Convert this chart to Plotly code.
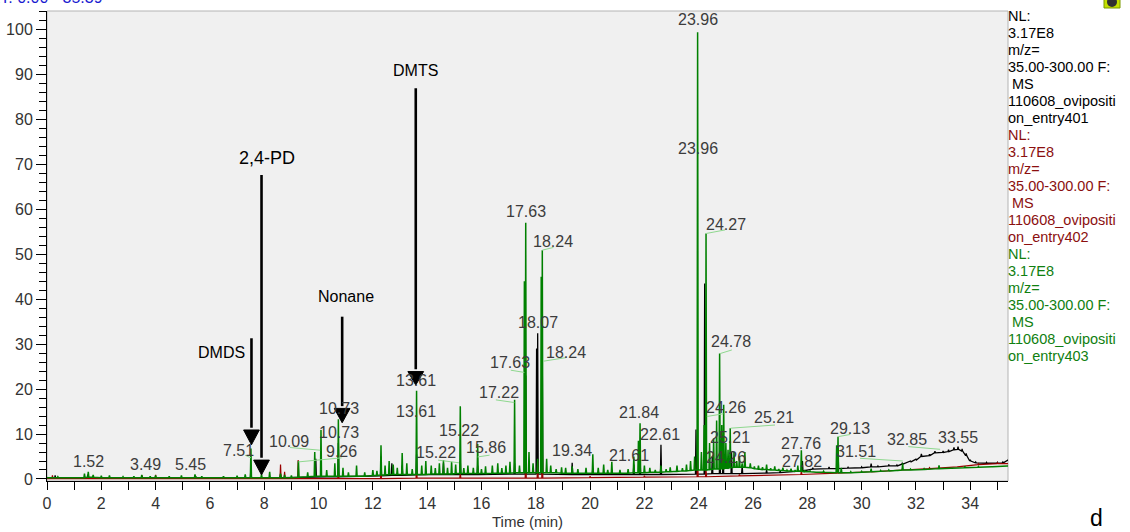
import plotly.graph_objects as go

# ---------------- data ----------------
# Green trace (entry403): retention time, apex intensity, foot (baseline) intensity
green_rt = [0.00, 0.40, 1.38, 1.52, 1.70, 2.00, 2.30, 2.80, 3.20, 3.49, 3.80, 4.00, 4.50, 4.95, 5.45, 5.70,
            6.50, 7.00, 7.30, 7.51, 7.90, 8.20, 8.60, 8.75, 9.00, 9.26, 9.60, 9.86, 10.09, 10.30, 10.60, 10.73,
            10.90, 11.10, 11.40, 11.70, 12.00, 12.15, 12.30, 12.45, 12.60, 12.75, 12.90, 13.08, 13.25, 13.45,
            13.61, 13.80, 13.95, 14.15, 14.30, 14.45, 14.60, 14.75, 14.90, 15.05, 15.22, 15.35, 15.50, 15.70,
            15.86, 16.00, 16.15, 16.40, 16.60, 16.75, 16.90, 17.05, 17.22, 17.40, 17.58, 17.63, 17.75, 17.90,
            18.07, 18.20, 18.24, 18.40, 18.55, 18.75, 18.95, 19.10, 19.34, 19.55, 19.85, 20.10, 20.30, 20.50,
            20.65, 20.80, 21.10, 21.40, 21.61, 21.78, 21.84, 22.00, 22.20, 22.40, 22.61, 22.80, 22.95, 23.20,
            23.40, 23.55, 23.70, 23.85, 23.96, 24.10, 24.20, 24.27, 24.40, 24.55, 24.66, 24.77, 24.85, 24.92,
            25.00, 25.08, 25.16, 25.30, 25.40, 25.50, 25.60, 25.70, 25.90, 26.05, 26.20, 26.35, 26.50, 26.65,
            26.80, 26.95, 27.10, 27.25, 27.40, 27.55, 27.65, 27.78, 27.90, 28.10, 28.30, 28.60, 28.90, 29.08,
            29.13, 29.25, 29.60, 30.00, 30.35, 30.70, 31.00, 31.30, 31.51, 31.80, 32.30, 32.85, 33.30, 33.80,
            34.30, 34.80, 35.39]
green_top = [0.3, 0.5, 1.2, 1.6, 0.9, 0.7, 0.8, 0.5, 0.6, 0.9, 0.6, 0.8, 0.6, 0.8, 1.0, 0.6,
             0.6, 0.7, 1.0, 6.8, 1.0, 1.6, 1.2, 0.9, 0.8, 4.0, 1.5, 6.0, 10.9, 2.0, 3.5, 13.3,
             2.5, 1.5, 3.0, 1.5, 2.0, 1.8, 7.5, 3.0, 4.0, 3.2, 2.5, 5.8, 3.5, 2.2,
             19.6, 3.0, 4.0, 3.0, 2.4, 3.5, 4.2, 2.5, 3.8, 3.2, 16.2, 2.4, 3.0, 2.5,
             7.8, 2.2, 2.8, 3.0, 3.5, 2.4, 3.0, 3.8, 17.6, 3.0, 44.0, 57.0, 6.0, 3.5,
             4.5, 45.0, 50.9, 4.5, 3.0, 2.2, 2.6, 2.5, 2.8, 2.2, 2.5, 5.5, 2.5, 3.2,
             2.0, 3.8, 2.0, 2.2, 5.0, 8.5, 12.4, 3.0, 2.5, 2.0, 3.0, 2.2, 2.6, 3.0,
             2.4, 3.2, 4.0, 5.0, 99.4, 6.0, 12.0, 54.6, 8.0, 9.0, 13.0, 27.9, 12.0, 16.5,
             8.0, 6.5, 11.3, 6.0, 4.0, 5.0, 3.5, 6.0, 3.5, 2.8, 3.0, 2.6, 3.2, 2.4,
             2.8, 2.2, 2.5, 2.0, 2.3, 2.0, 3.0, 6.4, 2.0, 1.8, 1.6, 1.7, 1.5, 7.5,
             9.4, 2.5, 1.6, 1.7, 2.3, 1.9, 2.0, 2.0, 3.5, 2.2, 2.3, 3.0, 2.5, 2.8,
             2.8, 2.8, 3.0]
green_foot = [0.3, 0.3, 0.3, 0.4, 0.4, 0.3, 0.3, 0.3, 0.3, 0.3, 0.3, 0.3, 0.3, 0.3, 0.3, 0.3,
              0.3, 0.3, 0.3, 0.3, 0.3, 0.3, 0.3, 0.3, 0.3, 0.4, 0.5, 0.6, 0.6, 0.6, 0.6, 0.6,
              0.6, 0.6, 0.6, 0.6, 0.8, 0.8, 0.9, 0.9, 1.0, 1.0, 1.0, 1.0, 1.0, 1.0,
              1.0, 1.0, 1.0, 1.1, 1.1, 1.1, 1.1, 1.1, 1.1, 1.2, 1.2, 1.2, 1.2, 1.2,
              1.2, 1.2, 1.2, 1.3, 1.3, 1.3, 1.3, 1.3, 1.4, 1.4, 1.4, 1.4, 1.4, 1.4,
              1.4, 1.4, 1.4, 1.4, 1.4, 1.4, 1.3, 1.3, 1.3, 1.3, 1.3, 1.3, 1.3, 1.3,
              1.3, 1.3, 1.3, 1.3, 1.4, 1.4, 1.4, 1.4, 1.5, 1.5, 1.5, 1.6, 1.6, 1.7,
              1.8, 1.8, 1.9, 2.0, 2.0, 2.0, 2.0, 2.0, 2.1, 2.2, 2.2, 2.2, 2.3, 2.3,
              2.4, 2.4, 2.5, 2.6, 2.6, 2.6, 2.6, 2.6, 2.5, 2.3, 2.2, 2.1, 2.1, 2.0,
              2.0, 1.9, 1.9, 1.8, 1.8, 1.7, 1.7, 1.7, 1.6, 1.6, 1.5, 1.5, 1.4, 1.4,
              1.4, 1.4, 1.4, 1.5, 1.6, 1.7, 1.8, 1.9, 2.0, 2.0, 2.1, 2.3, 2.4, 2.5,
              2.6, 2.7, 2.9]

# Black trace (entry401)
black_rt = [0.00, 0.30, 1.50, 3.50, 5.50, 7.51, 8.60, 9.90, 10.73, 12.30, 12.70, 13.08, 13.61, 14.60,
            15.22, 15.86, 17.22, 17.63, 18.03, 18.07, 18.24, 19.34, 20.10, 21.61, 21.84, 22.61, 23.90,
            24.22, 24.50, 24.78, 24.90, 25.21, 25.60, 26.50, 27.00, 27.82, 28.20, 28.80, 29.13, 29.50,
            30.00, 30.35, 30.60, 31.00, 31.30, 31.50, 31.80, 32.00, 32.20, 32.50, 32.70, 33.00, 33.20,
            33.40, 33.55, 33.70, 33.85, 34.00, 34.20, 34.60, 35.00, 35.20, 35.39]
black_top = [0.2, 0.8, 1.0, 0.6, 0.5, 2.5, 1.0, 4.5, 8.0, 5.0, 3.5, 3.0, 5.5, 3.5,
             4.0, 3.0, 3.5, 23.0, 29.0, 32.4, 26.0, 3.6, 2.5, 3.2, 5.0, 7.6, 11.0,
             43.5, 5.0, 9.0, 6.0, 6.0, 3.0, 2.0, 1.8, 4.0, 2.5, 2.7, 7.0, 2.6,
             2.7, 3.4, 2.9, 3.2, 3.1, 3.6, 4.0, 4.4, 5.6, 5.5, 6.2, 6.2, 6.5,
             7.0, 7.2, 6.7, 5.7, 4.3, 3.8, 3.7, 3.7, 3.8, 4.4]
black_foot = [0.2, 0.2, 0.2, 0.2, 0.2, 0.3, 0.3, 0.4, 0.5, 0.7, 0.8, 0.8, 0.9, 1.0,
              1.0, 1.0, 1.1, 1.1, 1.1, 1.1, 1.1, 1.0, 1.0, 1.0, 1.0, 1.0, 1.1,
              1.1, 1.2, 1.2, 1.2, 1.2, 1.2, 1.3, 1.4, 1.8, 2.2, 2.3, 2.3, 2.4,
              2.5, 2.7, 2.7, 2.9, 2.9, 3.3, 3.8, 4.2, 5.0, 5.2, 5.8, 5.9, 6.1,
              6.5, 6.6, 6.2, 5.2, 4.0, 3.6, 3.5, 3.5, 3.6, 4.3]

# Dark red trace (entry402)
red_rt = [0.00, 0.20, 1.50, 3.50, 4.00, 5.45, 6.50, 8.60, 8.75, 9.25, 10.73, 12.30, 13.61, 15.22,
          17.63, 18.07, 18.24, 20.00, 22.00, 23.96, 24.27, 25.50, 27.78, 29.10, 30.35, 31.50,
          32.50, 33.50, 34.30, 35.00, 35.39]
red_top = [0.3, 0.8, 0.5, 0.8, 0.9, 0.8, 0.5, 3.2, 1.6, 4.2, 2.0, 1.5, 2.0, 1.2,
           8.0, 4.0, 7.5, 0.6, 0.7, 4.7, 2.0, 1.0, 1.8, 1.5, 1.9, 2.3,
           2.5, 2.8, 3.4, 3.6, 3.5]
red_foot = [0.1, 0.1, 0.1, 0.1, 0.1, 0.1, 0.1, 0.1, 0.1, 0.1, 0.1, 0.1, 0.2, 0.2,
            0.2, 0.2, 0.2, 0.3, 0.4, 0.5, 0.5, 0.7, 1.0, 1.3, 1.6, 2.0,
            2.3, 2.7, 3.2, 3.4, 3.4]

# Peak labels: text, time position, intensity position
label_text = ["1.52", "3.49", "5.45", "7.51", "10.09", "9.26", "10.73", "10.73", "13.61", "13.61",
              "15.22", "15.22", "15.86", "17.22", "17.63", "17.63", "18.24", "18.24", "18.07", "19.34",
              "21.61", "21.84", "22.61", "23.96", "23.96", "24.27", "24.78", "24.26", "25.21", "25.21",
              "24.26", "27.76", "27.82", "29.13", "31.51", "32.85", "33.55"]
label_t = [1.51, 3.61, 5.30, 7.07, 8.91, 10.83, 10.75, 10.75, 13.59, 13.59,
           15.17, 14.33, 16.17, 16.65, 17.64, 17.05, 18.64, 19.12, 18.08, 19.34,
           21.44, 21.80, 22.58, 23.98, 23.98, 24.99, 25.19, 24.99, 26.78, 25.16,
           25.01, 27.77, 27.81, 29.58, 29.80, 31.68, 33.55]
label_v = [4.0, 3.3, 3.3, 6.4, 8.4, 6.2, 15.6, 10.4, 21.8, 14.9,
           10.7, 5.8, 7.1, 19.3, 59.4, 25.8, 52.9, 28.2, 34.7, 6.4,
           5.3, 14.7, 9.8, 102.3, 73.6, 56.7, 30.5, 16.0, 13.6, 9.3,
           4.7, 8.0, 3.8, 11.3, 6.2, 8.7, 9.3]

# Leader lines (peak -> label): t0, v0, t1, v1
leader_t0 = [7.29, 8.95, 9.26, 14.40, 15.86, 16.53, 17.08, 18.24, 18.28, 24.27, 24.79, 24.30, 25.18, 29.12, 29.94, 31.72]
leader_v0 = [5.3, 7.0, 3.8, 4.2, 4.9, 17.6, 24.2, 50.9, 26.2, 54.6, 27.9, 13.9, 11.3, 9.4, 4.6, 7.2]
leader_t1 = [7.51, 10.06, 10.85, 15.17, 16.30, 17.21, 17.58, 18.65, 19.12, 24.97, 25.22, 24.91, 26.81, 29.58, 31.52, 32.89]
leader_v1 = [4.7, 6.4, 4.7, 3.6, 5.3, 17.0, 23.7, 51.5, 27.0, 55.4, 28.7, 14.5, 12.0, 9.9, 4.0, 6.6]

# Compound arrows: name, time, shaft top, head base, tip, label position
cmp_name = ["DMDS", "2,4-PD", "Nonane", "DMTS"]
cmp_t = [7.53, 7.90, 10.87, 13.58]
cmp_top = [31.3, 67.6, 36.1, 86.9]
cmp_headbase = [10.9, 4.2, 15.7, 23.9]
cmp_tip = [7.6, 0.9, 12.5, 20.9]
cmp_label_t = [6.44, 8.10, 11.00, 13.58]
cmp_label_v = [28.2, 71.4, 40.5, 90.9]
cmp_label_size = [16, 18, 16, 16]

legend_lines = ["NL:", "3.17E8", "m/z=", "35.00-300.00 F:", " MS", "110608_ovipositi"]
entries = ["on_entry401", "on_entry402", "on_entry403"]
entry_colors = ["#000000", "#8b0f0f", "#108010"]

# ---------------- figure ----------------
FONT = "Arial, Liberation Sans, sans-serif"
W = 0.02  # spike half-width (min)


def spikes(rt, top, foot):
    xs, ys = [], []
    for t, h, f in zip(rt, top, foot):
        xs += [t - W, t, t + W]
        ys += [f, h, f]
    return xs, ys


fig = go.Figure()
for rt, top, foot, col, lw in [(black_rt, black_top, black_foot, "#000000", 1.3),
                               (red_rt, red_top, red_foot, "#9a0000", 1.2),
                               (green_rt, green_top, green_foot, "#008000", 1.5)]:
    xs, ys = spikes(rt, top, foot)
    fig.add_trace(go.Scatter(x=xs, y=ys, mode="lines", line=dict(color=col, width=lw),
                             hoverinfo="skip", showlegend=False))

shapes = []
annotations = []

# plot frame (light gray)
shapes.append(dict(type="rect", xref="paper", yref="paper", x0=0, x1=1, y0=0, y1=1,
                   line=dict(color="#b4b4b4", width=1), layer="below"))

# leader lines
for a, b, c, d in zip(leader_t0, leader_v0, leader_t1, leader_v1):
    shapes.append(dict(type="line", xref="x", yref="y", x0=a, y0=b, x1=c, y1=d,
                       line=dict(color="#8fd88f", width=1)))

# peak labels
for txt, t, v in zip(label_text, label_t, label_v):
    annotations.append(dict(x=t, y=v, xref="x", yref="y", text=txt, showarrow=False,
                            xanchor="center", yanchor="middle",
                            font=dict(family=FONT, size=16, color="#3c3c3c")))

# arrows
HW = 0.29
for name, t, top, hb, tip, lt, lv, fs in zip(cmp_name, cmp_t, cmp_top, cmp_headbase, cmp_tip,
                                              cmp_label_t, cmp_label_v, cmp_label_size):
    shapes.append(dict(type="line", xref="x", yref="y", x0=t, x1=t, y0=top, y1=hb + 0.5,
                       line=dict(color="black", width=2.6)))
    shapes.append(dict(type="path", xref="x", yref="y",
                       path=f"M {t - HW},{hb} L {t + HW},{hb} L {t},{tip} Z",
                       fillcolor="black", line=dict(color="black", width=1)))
    annotations.append(dict(x=lt, y=lv, xref="x", yref="y", text=name, showarrow=False,
                            xanchor="center", yanchor="middle",
                            font=dict(family=FONT, size=fs, color="black")))

# right-side legend text
PLOT_TOP, PLOT_H = 11, 470
line_no = 0
for entry, col in zip(entries, entry_colors):
    for txt in legend_lines + [entry]:
        py = 16.5 + 16.95 * line_no
        annotations.append(dict(x=(1006 - 47) / 961, y=(PLOT_TOP + PLOT_H - py) / PLOT_H,
                                xref="paper", yref="paper",
                                xanchor="left", yanchor="middle", text=txt.replace(" ", "&nbsp;"),
                                showarrow=False, font=dict(family=FONT, size=14.5, color=col)))
        line_no += 1

# axis title, panel letter, RT range
annotations.append(dict(x=(527 - 47) / 961, y=(481 - 521) / 470, xref="paper", yref="paper",
                        xanchor="center", yanchor="middle",
                        text="Time (min)", showarrow=False, font=dict(family=FONT, size=15, color="#333333")))
annotations.append(dict(x=(1096 - 47) / 961, y=(481 - 518) / 470, xref="paper", yref="paper",
                        xanchor="center", yanchor="middle",
                        text="d", showarrow=False, font=dict(family=FONT, size=23, color="black")))
annotations.append(dict(x=(-13 - 47) / 961, y=(481 + 3) / 470, xref="paper", yref="paper",
                        xanchor="left", yanchor="middle", text="RT: 0.00 - 35.39", showarrow=False,
                        font=dict(family=FONT, size=16, color="#1a1ad0")))

# small icon top right
shapes.append(dict(type="rect", xref="paper", yref="paper", x0=(1104 - 47) / 961, x1=(1120 - 47) / 961,
                   y0=(481 - 8) / 470, y1=(481 + 2) / 470, fillcolor="#c4e000",
                   line=dict(color="#7a9a00", width=1)))
shapes.append(dict(type="circle", xref="paper", yref="paper", x0=(1107 - 47) / 961, x1=(1117 - 47) / 961,
                   y0=(481 - 7) / 470, y1=(481 + 3) / 470, fillcolor="#303030",
                   line=dict(color="#303030", width=0)))

fig.update_layout(
    width=1130, height=532,
    margin=dict(l=47, r=122, t=11, b=51, autoexpand=False),
    paper_bgcolor="white", plot_bgcolor="#f0f0f0",
    shapes=shapes, annotations=annotations,
    font=dict(family=FONT, size=15, color="#333333"),
    xaxis=dict(range=[0, 35.39], tickmode="linear", tick0=0, dtick=2, ticks="outside", ticklen=8,
               tickcolor="black", showline=True, linecolor="black", linewidth=1, showgrid=False,
               zeroline=False, automargin=False, tickfont=dict(family=FONT, size=16, color="#333333"),
               minor=dict(dtick=1, ticks="outside", ticklen=8, tickcolor="black", showgrid=False)),
    yaxis=dict(range=[-0.45, 104.1], tickmode="linear", tick0=0, dtick=10, ticks="outside", ticklen=10,
               tickcolor="black", showline=True, linecolor="black", linewidth=1, showgrid=False,
               zeroline=False, automargin=False, tickfont=dict(family=FONT, size=16, color="#333333"),
               minor=dict(dtick=2, ticks="outside", ticklen=7, tickcolor="black", showgrid=False)),
)

fig.write_html("out.html", config={"displayModeBar": False},
               post_script="document.body.style.margin='0px';document.body.style.overflow='hidden';")
